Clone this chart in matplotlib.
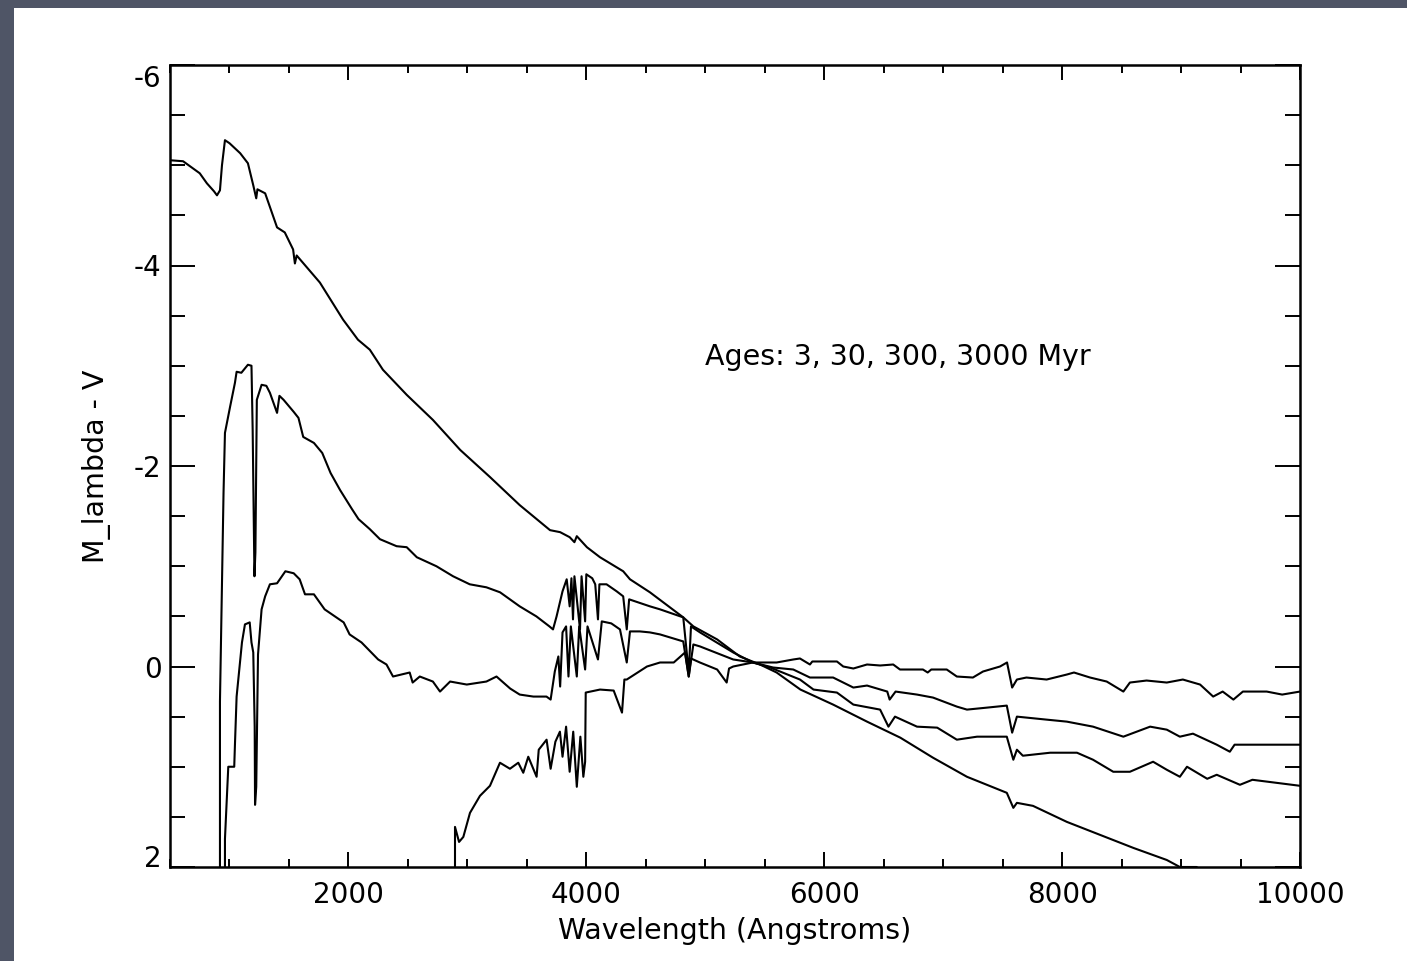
import matplotlib.pyplot as plt
from matplotlib.patches import Rectangle
from matplotlib.ticker import MultipleLocator

# The original lettering is wide, DejaVu Sans matches its widths best
plt.rcParams['font.family'] = ['DejaVu Sans']

# -------------------------------------------------------------------------------------------------
# Spectra: wavelength (Angstroms) and M_lambda - V (mag)

wave_3 = [500, 610, 750, 810, 870, 895, 920, 937, 962, 1000, 1090, 1155, 1200, 1225, 1235,
          1300, 1400, 1465, 1535, 1550, 1565, 1760, 1955, 2080, 2180, 2290, 2490, 2710, 2940,
          3190, 3440, 3695, 3780, 3860, 3900, 3920, 4005, 4115, 4310, 4367, 4535, 4815, 4900,
          5100, 5290, 5460, 5600, 5800, 6075, 6360, 6640, 6915, 7200, 7535, 7590, 7620, 7755,
          8040, 8320, 8600, 8880, 8990, 9130, 9200]
mag_3 = [-5.05, -5.04, -4.92, -4.82, -4.74, -4.70, -4.75, -5.00, -5.25, -5.22, -5.12, -5.02,
         -4.80, -4.67, -4.76, -4.72, -4.38, -4.33, -4.16, -4.02, -4.10, -3.83, -3.46, -3.26,
         -3.16, -2.96, -2.71, -2.46, -2.16, -1.89, -1.61, -1.36, -1.34, -1.29, -1.24, -1.30,
         -1.19, -1.09, -0.95, -0.87, -0.74, -0.49, -0.40, -0.27, -0.10, -0.02, 0.06, 0.23,
         0.38, 0.55, 0.71, 0.91, 1.10, 1.26, 1.41, 1.36, 1.39, 1.55, 1.68, 1.81, 1.93, 2.00,
         2.00, 2.06]

wave_30 = [920, 920, 950, 962, 1005, 1046, 1060, 1100, 1155, 1185, 1195, 1210, 1218, 1230,
           1270, 1310, 1340, 1400, 1420, 1455, 1540, 1580, 1620, 1710, 1780, 1850, 1930, 2030,
           2085, 2180, 2265, 2405, 2490, 2575, 2740, 2880, 3020, 3160, 3275, 3440, 3580, 3690,
           3720, 3750, 3800, 3835, 3860, 3875, 3888, 3900, 3947, 3960, 3990, 4000, 4050, 4075,
           4098, 4110, 4170, 4255, 4310, 4340, 4360, 4535, 4620, 4815, 4861, 4880, 4956, 5235,
           5400, 5545, 5796, 5910, 6107, 6245, 6470, 6540, 6595, 6780, 6950, 7115, 7285, 7535,
           7590, 7620, 7670, 7900, 8125, 8260, 8430, 8570, 8765, 8880, 8990, 9050, 9220, 9300,
           9495, 9600, 9800, 10000]
mag_30 = [2.30, 0.35, -1.73, -2.33, -2.59, -2.83, -2.94, -2.93, -3.01, -3.00, -2.36, -0.90,
          -1.14, -2.66, -2.81, -2.80, -2.73, -2.53, -2.70, -2.66, -2.54, -2.48, -2.29, -2.23,
          -2.13, -1.93, -1.76, -1.57, -1.47, -1.37, -1.27, -1.20, -1.19, -1.09, -1.00, -0.90,
          -0.82, -0.79, -0.74, -0.60, -0.50, -0.40, -0.37, -0.50, -0.75, -0.87, -0.60, -0.88,
          -0.47, -0.90, -0.37, -0.90, -0.45, -0.92, -0.88, -0.82, -0.47, -0.82, -0.82, -0.75,
          -0.70, -0.37, -0.67, -0.60, -0.57, -0.49, 0.06, -0.40, -0.34, -0.14, -0.04, 0.01,
          0.13, 0.23, 0.26, 0.38, 0.43, 0.60, 0.50, 0.60, 0.61, 0.73, 0.70, 0.70, 0.93, 0.83,
          0.89, 0.86, 0.86, 0.93, 1.05, 1.05, 0.95, 1.03, 1.10, 1.00, 1.12, 1.08, 1.18, 1.13,
          1.16, 1.19]

wave_300 = [962, 962, 990, 1040, 1046, 1060, 1105, 1130, 1170, 1185, 1200, 1212, 1215, 1225,
            1240, 1270, 1300, 1340, 1400, 1470, 1540, 1590, 1635, 1710, 1800, 1960, 2010, 2110,
            2250, 2320, 2375, 2515, 2540, 2600, 2710, 2770, 2855, 2995, 3160, 3245, 3360, 3440,
            3555, 3665, 3700, 3735, 3765, 3780, 3800, 3830, 3850, 3870, 3920, 3940, 3990, 4010,
            4098, 4130, 4210, 4283, 4340, 4367, 4450, 4535, 4620, 4815, 4861, 4900, 4956, 5235,
            5400, 5570, 5740, 5880, 6075, 6245, 6360, 6530, 6550, 6600, 6780, 6915, 7115, 7200,
            7370, 7535, 7580, 7620, 7870, 8040, 8260, 8515, 8740, 8880, 8990, 9100, 9300, 9410,
            9450, 10000]
mag_300 = [2.30, 1.72, 1.00, 1.00, 0.78, 0.30, -0.24, -0.42, -0.44, -0.24, -0.14, 0.60, 1.38,
           1.20, -0.12, -0.57, -0.70, -0.82, -0.83, -0.95, -0.93, -0.87, -0.72, -0.72, -0.57,
           -0.44, -0.32, -0.24, -0.07, -0.02, 0.10, 0.06, 0.16, 0.10, 0.15, 0.25, 0.15, 0.18,
           0.15, 0.10, 0.22, 0.28, 0.30, 0.30, 0.33, 0.05, -0.10, 0.20, -0.34, -0.40, 0.10,
           -0.40, 0.10, -0.40, 0.03, -0.40, -0.07, -0.45, -0.43, -0.37, -0.04, -0.35, -0.35,
           -0.34, -0.32, -0.25, 0.10, -0.22, -0.20, -0.07, -0.04, 0.01, 0.03, 0.11, 0.11, 0.21,
           0.19, 0.25, 0.33, 0.25, 0.28, 0.31, 0.40, 0.43, 0.41, 0.39, 0.66, 0.50, 0.53, 0.55,
           0.60, 0.70, 0.60, 0.63, 0.70, 0.67, 0.78, 0.85, 0.78, 0.78]

wave_3000 = [2896, 2896, 2930, 2966, 3022, 3106, 3190, 3274, 3358, 3428, 3470, 3512, 3582,
             3600, 3666, 3700, 3740, 3778, 3800, 3830, 3860, 3890, 3920, 3950, 3975, 3990,
             3995, 4115, 4230, 4300, 4320, 4340, 4510, 4620, 4735, 4830, 4861, 4880, 4955,
             5100, 5180, 5200, 5235, 5400, 5600, 5740, 5796, 5880, 5900, 6107, 6160, 6245,
             6360, 6470, 6580, 6637, 6830, 6870, 6900, 7030, 7115, 7250, 7335, 7478, 7537,
             7580, 7620, 7700, 7870, 8040, 8100, 8235, 8375, 8515, 8570, 8710, 8880, 9015,
             9160, 9270, 9350, 9440, 9520, 9720, 9850, 10000]
mag_3000 = [2.30, 1.60, 1.75, 1.70, 1.46, 1.29, 1.19, 0.96, 1.02, 0.96, 1.06, 0.90, 1.10, 0.83,
            0.73, 1.02, 0.75, 0.65, 0.90, 0.60, 1.05, 0.65, 1.20, 0.70, 1.10, 0.95, 0.26, 0.23,
            0.24, 0.46, 0.13, 0.13, 0.00, -0.04, -0.04, -0.14, 0.10, -0.08, -0.04, 0.03, 0.16,
            0.02, 0.00, -0.04, -0.04, -0.07, -0.08, -0.02, -0.05, -0.05, 0.00, 0.02, -0.02,
            -0.01, -0.02, 0.03, 0.03, 0.06, 0.03, 0.03, 0.10, 0.11, 0.05, 0.00, -0.04, 0.21,
            0.13, 0.11, 0.13, 0.08, 0.06, 0.11, 0.15, 0.25, 0.16, 0.14, 0.16, 0.13, 0.18, 0.30,
            0.25, 0.33, 0.25, 0.25, 0.28, 0.25]

x_ticks = [2000, 4000, 6000, 8000, 10000]
y_ticks = [-6, -4, -2, 0, 2]

# -------------------------------------------------------------------------------------------------

fig, ax = plt.subplots(figsize=(14.07, 9.61), dpi=100)
fig.patch.set_facecolor('#4f5566')

# White slide panel behind the plot
fig.add_artist(Rectangle((14 / 1407, 0), 1, 1 - 8 / 961, facecolor='white',
                         edgecolor='none', transform=fig.transFigure, zorder=-1))
ax.set_facecolor('white')
plt.subplots_adjust(left=170 / 1407, right=1300 / 1407, bottom=1 - 867 / 961, top=1 - 65 / 961)

for w, m in [(wave_3, mag_3), (wave_30, mag_30), (wave_300, mag_300), (wave_3000, mag_3000)]:
    ax.plot(w, m, color='black', linewidth=1.5)

ax.set_xlim(500, 10000)
ax.set_ylim(2, -6)

# -------------------------------------------------------------------------------------------------

# IDL style box with inward ticks on all four sides
for side in ['top', 'bottom', 'left', 'right']:
    ax.spines[side].set_linewidth(1.8)

ax.set_xticks(x_ticks, [str(t) for t in x_ticks])
ax.set_yticks(y_ticks, [str(t) for t in y_ticks])
ax.xaxis.set_minor_locator(MultipleLocator(500))
ax.yaxis.set_minor_locator(MultipleLocator(0.5))

ax.tick_params(which='both', direction='in', top=True, right=True, width=1.4,
               labelsize=20, colors='black')
ax.tick_params(axis='x', which='major', length=11, pad=10)
ax.tick_params(axis='x', which='minor', length=6)
ax.tick_params(axis='y', which='major', length=18, pad=6)
ax.tick_params(axis='y', which='minor', length=11)

# End labels sit inside the axis range, as in the original
ax.yaxis.get_major_ticks()[0].label1.set_va('top')
ax.yaxis.get_major_ticks()[-1].label1.set_va('baseline')

ax.set_xlabel('Wavelength (Angstroms)', fontsize=20.5)
ax.xaxis.set_label_coords(0.5, -0.062)
ax.set_ylabel('M_lambda - V', fontsize=20.5)
ax.yaxis.set_label_coords(-0.052, 0.5)

ax.text(0.4735, 0.626, 'Ages: 3, 30, 300, 3000 Myr', transform=ax.transAxes,
        ha='left', va='baseline', fontsize=20.5)

fig.savefig('out.png', dpi=100)
